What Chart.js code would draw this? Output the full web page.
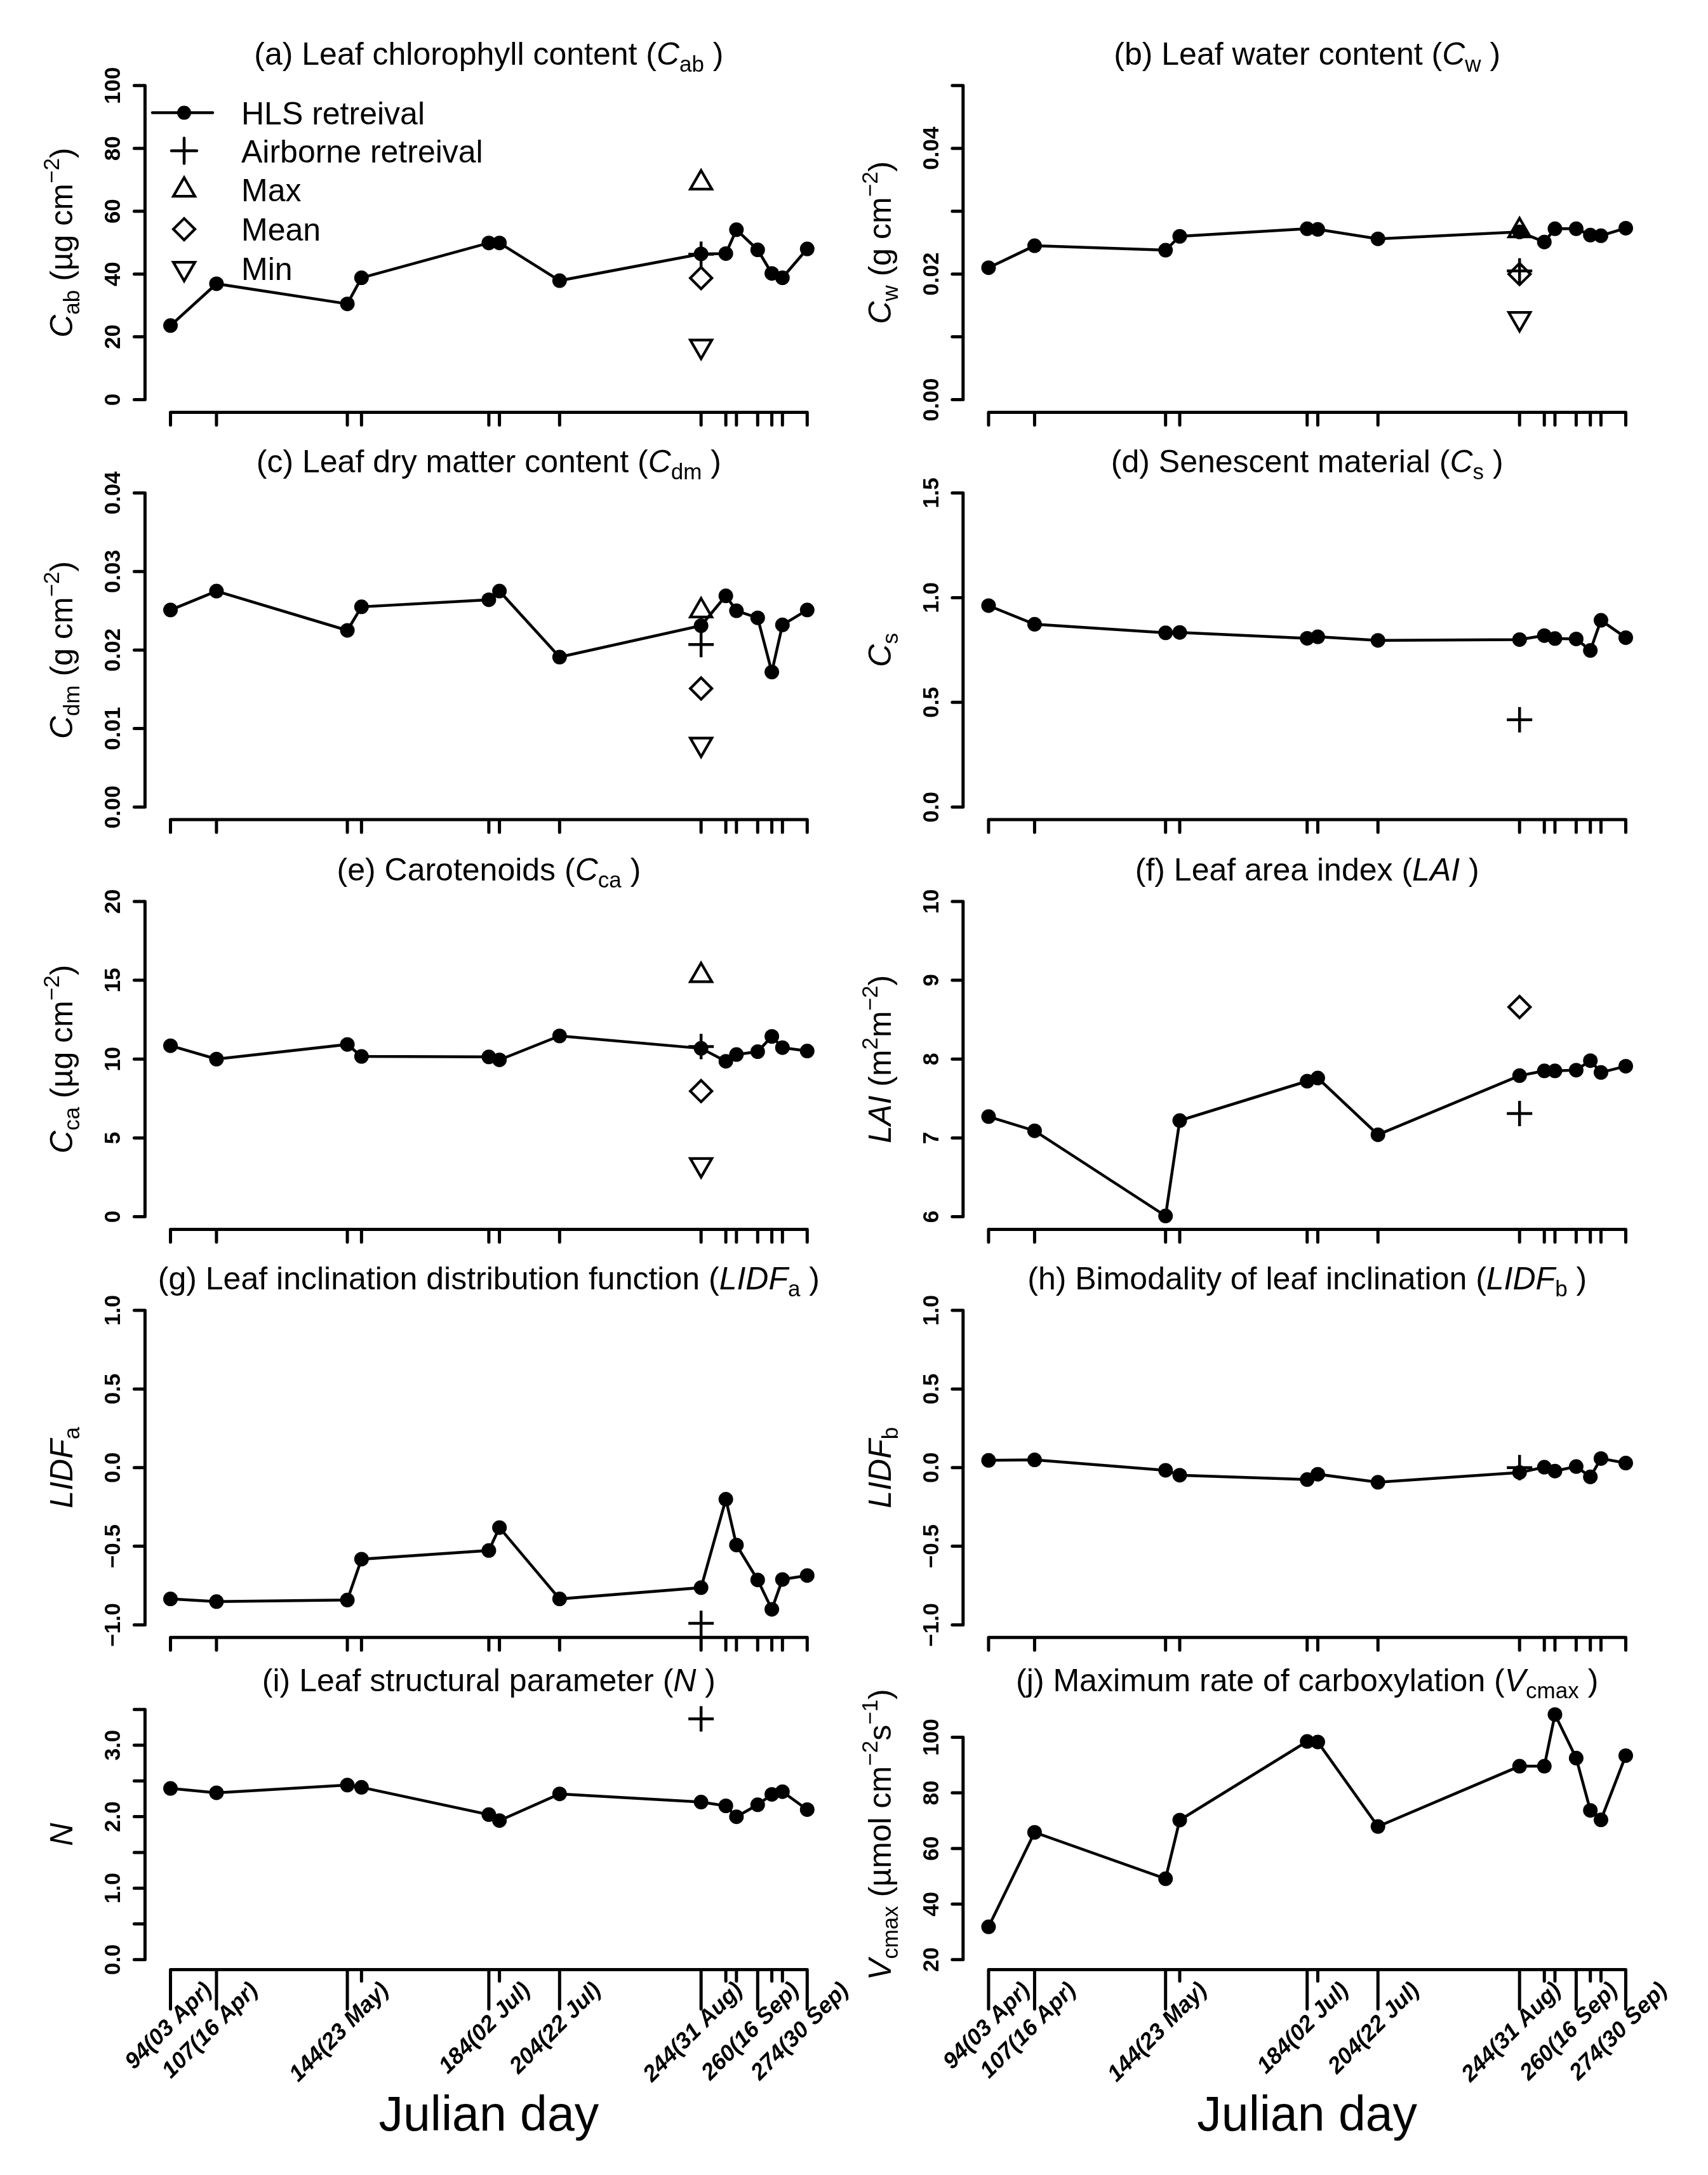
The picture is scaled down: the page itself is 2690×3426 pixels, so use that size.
<!DOCTYPE html>
<html>
<head>
<meta charset="utf-8">
<script src="https://cdn.jsdelivr.net/npm/chart.js@4.4.1/dist/chart.umd.min.js"></script>
<style>
  html, body { margin: 0; padding: 0; background: #fff; }
  #page { position: relative; width: 2690px; height: 3426px; background: #fff; overflow: hidden; }
  #page canvas { position: absolute; }
</style>
</head>
<body>
<div id="page"></div>
<script>
// acquisition dates (Julian day) and the ones that get a text label
const days = [94, 107, 144, 148, 184, 187, 204, 244, 251, 254, 260, 264, 267, 274];
const labelDays = [94, 107, 144, 184, 204, 244, 260, 274];
const labelText = ['94(03 Apr)', '107(16 Apr)', '144(23 May)', '184(02 Jul)', '204(22 Jul)',
                   '244(31 Aug)', '260(16 Sep)', '274(30 Sep)'];
const airDay = 244;

// HLS retrievals, one value per date
const cabHLS   = [23.6, 36.9, 30.5, 38.8, 49.9, 49.9, 37.9, 46.4, 46.5, 54.1, 47.7, 40.2, 38.8, 48.0];
const cwHLS    = [0.0210, 0.0245, 0.0238, 0.0260, 0.0272, 0.0271, 0.0256, 0.0267, 0.0251, 0.0272, 0.0272, 0.0262, 0.0261, 0.0273];
const cdmHLS   = [0.0251, 0.0275, 0.0225, 0.0255, 0.0264, 0.0275, 0.0191, 0.0231, 0.0269, 0.0250, 0.0241, 0.0172, 0.0232, 0.0251];
const csHLS    = [0.962, 0.873, 0.832, 0.834, 0.806, 0.813, 0.796, 0.800, 0.819, 0.805, 0.803, 0.748, 0.892, 0.809];
const ccaHLS   = [10.85, 10.0, 10.93, 10.17, 10.14, 9.95, 11.47, 10.68, 9.86, 10.29, 10.47, 11.44, 10.73, 10.51];
const laiHLS   = [7.27, 7.09, 6.01, 7.22, 7.72, 7.76, 7.04, 7.79, 7.85, 7.85, 7.86, 7.98, 7.83, 7.91];
const lidfaHLS = [-0.835, -0.852, -0.842, -0.582, -0.527, -0.381, -0.835, -0.763, -0.201, -0.492, -0.714, -0.901, -0.711, -0.686];
const lidfbHLS = [0.046, 0.049, -0.017, -0.048, -0.076, -0.042, -0.093, -0.031, 0.003, -0.022, 0.007, -0.059, 0.058, 0.029];
const nHLS     = [2.396, 2.335, 2.442, 2.411, 2.029, 1.946, 2.319, 2.205, 2.152, 1.999, 2.167, 2.312, 2.350, 2.099];
const vcmaxHLS = [31.8, 65.8, 49.1, 70.2, 98.5, 98.3, 67.9, 89.6, 89.6, 108.2, 92.5, 73.7, 70.3, 93.4];

// airborne retrieval and field stats (max, mean, min) on day 244
const cabAir = 46.3,  cabStats = [69.0, 38.7, 17.0];
const cwAir = 0.0205, cwStats = [0.0269, 0.0200, 0.0129];
const cdmAir = 0.0207, cdmStats = [0.0250, 0.0151, 0.0080];
const csAir = 0.417;
const ccaAir = 10.8,  ccaStats = [15.3, 7.97, 3.3];
const laiAir = 7.31,  laiMean = 8.66;
const lidfaAir = -0.99;
const lidfbAir = 0.0;
const nAir = 3.37;

// y axis ticks and the ticks that carry a label
const cabTicks = [0, 20, 40, 60, 80, 100];
const cwTicks = [0, 0.01, 0.02, 0.03, 0.04, 0.05], cwLabels = [0, 0.02, 0.04];
const cdmTicks = [0, 0.01, 0.02, 0.03, 0.04];
const csTicks = [0, 0.5, 1.0, 1.5];
const ccaTicks = [0, 5, 10, 15, 20];
const laiTicks = [6, 7, 8, 9, 10];
const lidfTicks = [-1, -0.5, 0, 0.5, 1];
const nTicks = [0, 0.5, 1, 1.5, 2, 2.5, 3, 3.5], nLabels = [0, 1, 2, 3];
const vcmaxTicks = [20, 40, 60, 80, 100];

const FONT = '"Liberation Sans", Arial, Helvetica, sans-serif';

// plot regions (page pixels)
const colX = [{ left: 228.4, right: 1311.4, cx: 0, cw: 1345 }, { left: 1516.8, right: 2600.6, cx: 1345, cw: 1345 }];
const rowY = [
  { top: 114.9, bottom: 649.4, cy: 0, ch: 710 },
  { top: 756.7, bottom: 1291.1, cy: 690, ch: 650 },
  { top: 1400.1, bottom: 1936.4, cy: 1335, ch: 650 },
  { top: 2044.2, bottom: 2579.3, cy: 1980, ch: 635 },
  { top: 2677.0, bottom: 3102.5, cy: 2600, ch: 826 }
];

function font(size, st) {
  return (st.includes('i') ? 'italic ' : '') + (st.includes('b') ? 'bold ' : '') + size + 'px ' + FONT;
}
function partSize(size, st) { return (st.includes('s') || st.includes('p')) ? size * 0.7 : size; }
function partsWidth(ctx, parts, size) {
  let w = 0;
  for (const [t, st] of parts) { ctx.font = font(partSize(size, st), st); w += ctx.measureText(t).width; }
  return w;
}
// text with sub/superscripts, centred on (x, y) baseline, optional rotation
function drawRich(ctx, parts, x, y, size, rot) {
  ctx.save();
  ctx.translate(x, y);
  if (rot) ctx.rotate(rot);
  ctx.textAlign = 'left';
  ctx.textBaseline = 'alphabetic';
  ctx.fillStyle = '#000';
  let cx = -partsWidth(ctx, parts, size) / 2;
  for (const [t, st] of parts) {
    let dy = 0;
    if (st.includes('s')) dy = size * 0.22;
    if (st.includes('p')) dy = -size * 0.42;
    ctx.font = font(partSize(size, st), st);
    ctx.fillText(t, cx, dy);
    cx += ctx.measureText(t).width;
  }
  ctx.restore();
}

function fmt(v, dec) { return v.toFixed(dec).replace('-', '\u2212'); }
function has(list, v) { return list.some(l => Math.abs(l - v) < 1e-9); }

function legendPoint(ctx, style, x, y, r, rot, filled, lw) {
  ctx.save();
  ctx.strokeStyle = '#000';
  ctx.fillStyle = filled ? '#000' : 'rgba(0,0,0,0)';
  ctx.lineWidth = lw;
  Chart.helpers.drawPoint(ctx, { pointStyle: style, radius: r, rotation: rot, borderWidth: lw }, x, y);
  ctx.restore();
}

function drawDecor(chart, p) {
  const ctx = chart.ctx, xs = chart.scales.x, ys = chart.scales.y, a = chart.chartArea;
  ctx.save();
  ctx.strokeStyle = '#000';
  ctx.fillStyle = '#000';
  ctx.lineWidth = 5;
  ctx.lineCap = 'round';

  // y axis
  const yTop = ys.getPixelForValue(p.ticks[p.ticks.length - 1]);
  const yBot = ys.getPixelForValue(p.ticks[0]);
  ctx.beginPath();
  ctx.moveTo(a.left, yBot); ctx.lineTo(a.left, yTop);
  for (const t of p.ticks) {
    const py = ys.getPixelForValue(t);
    ctx.moveTo(a.left, py); ctx.lineTo(a.left - 17, py);
  }
  ctx.stroke();
  for (const t of p.ticks) {
    if (!has(p.labels, t)) continue;
    const py = ys.getPixelForValue(t);
    ctx.save();
    ctx.translate(a.left - 39, py);
    ctx.rotate(-Math.PI / 2);
    ctx.font = font(35, 'b');
    ctx.textAlign = 'center';
    ctx.textBaseline = 'alphabetic';
    ctx.fillText(fmt(t, p.dec), 0, 0);
    ctx.restore();
  }

  // x axis
  const bottomRow = p.row === 4;
  ctx.beginPath();
  ctx.moveTo(xs.getPixelForValue(days[0]), a.bottom);
  ctx.lineTo(xs.getPixelForValue(days[days.length - 1]), a.bottom);
  for (const d of days) {
    const px = xs.getPixelForValue(d);
    const len = bottomRow ? (labelDays.includes(d) ? 62 : 18) : 20;
    ctx.moveTo(px, a.bottom); ctx.lineTo(px, a.bottom + len);
  }
  ctx.stroke();

  if (bottomRow) {
    labelDays.forEach((d, i) => {
      const px = xs.getPixelForValue(d);
      ctx.save();
      ctx.translate(px + 60, a.bottom + 27);
      ctx.rotate(-Math.PI / 4);
      ctx.font = font(36, 'bi');
      ctx.textAlign = 'right';
      ctx.textBaseline = 'middle';
      ctx.fillText(labelText[i], 0, 0);
      ctx.restore();
    });
    drawRich(ctx, [['Julian day', '']], (a.left + a.right) / 2, a.bottom + 253, 77, 0);
  }

  // title and y label
  drawRich(ctx, p.title, (a.left + a.right) / 2, a.top - 13, 50, 0);
  drawRich(ctx, p.ylab, a.left - 114, (a.top + a.bottom) / 2, 50, -Math.PI / 2);

  if (p.legend) {
    const lx = 290 - 228.4 + a.left, tx = 380 - 228.4 + a.left;
    const rows = [177.6, 237.6, 299.4, 361.1, 422.9].map(v => v - 114.9 + a.top);
    ctx.lineWidth = 4.5;
    ctx.beginPath();
    ctx.moveTo(lx - 50, rows[0]); ctx.lineTo(lx + 45, rows[0]);
    ctx.stroke();
    legendPoint(ctx, 'circle', lx, rows[0], 11, 0, true, 0);
    legendPoint(ctx, 'cross', lx, rows[1], 20, 0, false, 4.5);
    legendPoint(ctx, 'triangle', lx, rows[2], 19.6, 0, false, 4.2);
    legendPoint(ctx, 'rectRot', lx, rows[3], 17, 0, false, 4.2);
    legendPoint(ctx, 'triangle', lx, rows[4], 19.6, 180, false, 4.2);
    const names = ['HLS retreival', 'Airborne retreival', 'Max', 'Mean', 'Min'];
    ctx.font = font(50, '');
    ctx.textAlign = 'left';
    ctx.textBaseline = 'alphabetic';
    ctx.fillStyle = '#000';
    names.forEach((n, i) => ctx.fillText(n, tx, rows[i] + 18));
  }
  ctx.restore();
}

function marker(v, style, r, rot, lw) {
  return {
    data: [{ x: airDay, y: v }],
    showLine: false,
    pointStyle: style,
    pointRadius: r,
    pointHoverRadius: r,
    pointRotation: rot,
    pointBorderColor: '#000',
    pointBackgroundColor: 'rgba(0,0,0,0)',
    pointBorderWidth: lw,
    clip: false
  };
}

function makePanel(p) {
  const cx = colX[p.col], ry = rowY[p.row];
  const canvas = document.createElement('canvas');
  canvas.width = cx.cw; canvas.height = ry.ch;
  canvas.style.left = cx.cx + 'px'; canvas.style.top = ry.cy + 'px';
  document.getElementById('page').appendChild(canvas);

  const span = p.lim[1] - p.lim[0];
  const xSpan = days[days.length - 1] - days[0];
  const datasets = [{
    data: days.map((d, i) => ({ x: d, y: p.hls[i] })),
    borderColor: '#000',
    borderWidth: 4.5,
    pointRadius: 11.5,
    pointHoverRadius: 11.5,
    pointBackgroundColor: '#000',
    pointBorderWidth: 0,
    fill: false,
    tension: 0,
    clip: false
  }];
  if (p.air !== undefined) datasets.push(marker(p.air, 'cross', 20, 0, 4.5));
  if (p.stats) {
    datasets.push(marker(p.stats[0], 'triangle', 19.6, 0, 4.2));
    datasets.push(marker(p.stats[1], 'rectRot', 17, 0, 4.2));
    datasets.push(marker(p.stats[2], 'triangle', 19.6, 180, 4.2));
  }
  if (p.mean !== undefined) datasets.push(marker(p.mean, 'rectRot', 17, 0, 4.2));

  new Chart(canvas, {
    type: 'line',
    data: { datasets },
    options: {
      responsive: false,
      animation: false,
      devicePixelRatio: 1,
      events: [],
      layout: {
        padding: {
          left: cx.left - cx.cx,
          right: cx.cx + cx.cw - cx.right,
          top: ry.top - ry.cy,
          bottom: ry.cy + ry.ch - ry.bottom
        }
      },
      scales: {
        x: { type: 'linear', display: false,
             min: days[0] - 0.04 * xSpan, max: days[days.length - 1] + 0.04 * xSpan },
        y: { type: 'linear', display: false,
             min: p.lim[0] - 0.04 * span, max: p.lim[1] + 0.04 * span }
      },
      plugins: { legend: { display: false }, tooltip: { enabled: false }, title: { display: false } }
    },
    plugins: [{ id: 'rAxes', afterDraw(chart) { drawDecor(chart, p); } }]
  });
}

const panels = [
  { col: 0, row: 0, lim: [0, 100], ticks: cabTicks, labels: cabTicks, dec: 0,
    hls: cabHLS, air: cabAir, stats: cabStats, legend: true,
    title: [['(a) Leaf chlorophyll content (', ''], ['C', 'i'], ['ab', 's'], [' )', '']],
    ylab: [['C', 'i'], ['ab', 's'], [' (\u00b5g cm', ''], ['\u22122', 'p'], [')', '']] },
  { col: 1, row: 0, lim: [0, 0.05], ticks: cwTicks, labels: cwLabels, dec: 2,
    hls: cwHLS, air: cwAir, stats: cwStats,
    title: [['(b) Leaf water content (', ''], ['C', 'i'], ['w', 's'], [' )', '']],
    ylab: [['C', 'i'], ['w', 's'], [' (g cm', ''], ['\u22122', 'p'], [')', '']] },
  { col: 0, row: 1, lim: [0, 0.04], ticks: cdmTicks, labels: cdmTicks, dec: 2,
    hls: cdmHLS, air: cdmAir, stats: cdmStats,
    title: [['(c) Leaf dry matter content (', ''], ['C', 'i'], ['dm', 's'], [' )', '']],
    ylab: [['C', 'i'], ['dm', 's'], [' (g cm', ''], ['\u22122', 'p'], [')', '']] },
  { col: 1, row: 1, lim: [0, 1.5], ticks: csTicks, labels: csTicks, dec: 1,
    hls: csHLS, air: csAir,
    title: [['(d) Senescent material (', ''], ['C', 'i'], ['s', 's'], [' )', '']],
    ylab: [['C', 'i'], ['s', 's']] },
  { col: 0, row: 2, lim: [0, 20], ticks: ccaTicks, labels: ccaTicks, dec: 0,
    hls: ccaHLS, air: ccaAir, stats: ccaStats,
    title: [['(e) Carotenoids (', ''], ['C', 'i'], ['ca', 's'], [' )', '']],
    ylab: [['C', 'i'], ['ca', 's'], [' (\u00b5g cm', ''], ['\u22122', 'p'], [')', '']] },
  { col: 1, row: 2, lim: [6, 10], ticks: laiTicks, labels: laiTicks, dec: 0,
    hls: laiHLS, air: laiAir, mean: laiMean,
    title: [['(f) Leaf area index (', ''], ['LAI', 'i'], [' )', '']],
    ylab: [['LAI', 'i'], [' (m', ''], ['2', 'p'], ['m', ''], ['\u22122', 'p'], [')', '']] },
  { col: 0, row: 3, lim: [-1, 1], ticks: lidfTicks, labels: lidfTicks, dec: 1,
    hls: lidfaHLS, air: lidfaAir,
    title: [['(g) Leaf inclination distribution function (', ''], ['LIDF', 'i'], ['a', 's'], [' )', '']],
    ylab: [['LIDF', 'i'], ['a', 's']] },
  { col: 1, row: 3, lim: [-1, 1], ticks: lidfTicks, labels: lidfTicks, dec: 1,
    hls: lidfbHLS, air: lidfbAir,
    title: [['(h) Bimodality of leaf inclination (', ''], ['LIDF', 'i'], ['b', 's'], [' )', '']],
    ylab: [['LIDF', 'i'], ['b', 's']] },
  { col: 0, row: 4, lim: [0, 3.5], ticks: nTicks, labels: nLabels, dec: 1,
    hls: nHLS, air: nAir,
    title: [['(i) Leaf structural parameter (', ''], ['N', 'i'], [' )', '']],
    ylab: [['N', 'i']] },
  { col: 1, row: 4, lim: [20, 110], ticks: vcmaxTicks, labels: vcmaxTicks, dec: 0,
    hls: vcmaxHLS,
    title: [['(j) Maximum rate of carboxylation (', ''], ['V', 'i'], ['cmax', 's'], [' )', '']],
    ylab: [['V', 'i'], ['cmax', 's'], [' (\u00b5mol cm', ''], ['\u22122', 'p'], ['s', ''], ['\u22121', 'p'], [')', '']] }
];

panels.forEach(makePanel);
</script>
</body>
</html>
